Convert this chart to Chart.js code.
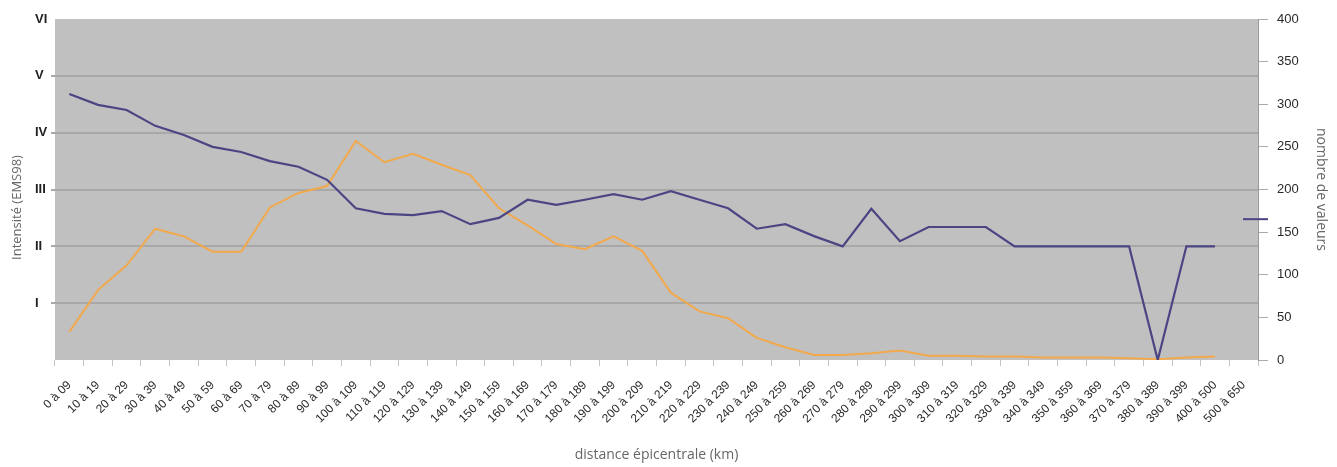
<!DOCTYPE html>
<html>
<head>
<meta charset="utf-8">
<script src="https://cdn.jsdelivr.net/npm/chart.js@4"></script>
<style>
  body { margin: 0; background: #fff; }
  #wrap { width: 1337px; height: 467px; }
</style>
</head>
<body>
<div id="wrap"><canvas id="chart"></canvas></div>
<script>
// distance classes (km)
const distances = [
  "0 à 09", "10 à 19", "20 à 29", "30 à 39", "40 à 49", "50 à 59", "60 à 69", "70 à 79",
  "80 à 89", "90 à 99", "100 à 109", "110 à 119", "120 à 129", "130 à 139", "140 à 149",
  "150 à 159", "160 à 169", "170 à 179", "180 à 189", "190 à 199", "200 à 209", "210 à 219",
  "220 à 229", "230 à 239", "240 à 249", "250 à 259", "260 à 269", "270 à 279", "280 à 289",
  "290 à 299", "300 à 309", "310 à 319", "320 à 329", "330 à 339", "340 à 349", "350 à 359",
  "360 à 369", "370 à 379", "380 à 389", "390 à 399", "400 à 500", "500 à 650"
];

// mean intensity (EMS98), left axis
const intensity = [
  4.68, 4.49, 4.40, 4.12, 3.96, 3.75, 3.66, 3.50, 3.40, 3.17,
  2.67, 2.57, 2.55, 2.62, 2.39, 2.50, 2.82, 2.73, 2.82, 2.92,
  2.82, 2.97, 2.82, 2.67, 2.31, 2.39, 2.18, 2.00, 2.66, 2.09,
  2.34, 2.34, 2.34, 2.00, 2.00, 2.00, 2.00, 2.00, 0, 2.00, 2.00
];

// number of values, right axis
const counts = [
  33, 82, 111, 154, 145, 127, 127, 179, 196, 204,
  257, 232, 242, 229, 217, 178, 158, 136, 130, 145,
  128, 79, 57, 49, 26, 15, 6, 6, 8, 11,
  5, 5, 4, 4, 3, 3, 3, 2, 1, 3, 4
];

const romanLabels = ["", "I", "II", "III", "IV", "V", "VI"];

// gray plot background
const plotBg = {
  id: "plotBg",
  beforeDraw(chart) {
    const { ctx, chartArea: a } = chart;
    ctx.save();
    ctx.fillStyle = "#c0c0c0";
    ctx.fillRect(a.left, a.top, a.right - a.left, a.bottom - a.top);
    ctx.restore();
  }
};

// left axis title + the stray legend key on the right edge
const extras = {
  id: "extras",
  afterDraw(chart) {
    const { ctx, chartArea: a } = chart;
    ctx.save();
    ctx.translate(17, (a.top + a.bottom) / 2 + 18);
    ctx.rotate(-Math.PI / 2);
    ctx.fillStyle = "#666";
    ctx.font = "13px 'Open Sans'";
    ctx.textAlign = "center";
    ctx.textBaseline = "middle";
    ctx.fillText("Intensité (EMS98)", 0, 0);
    ctx.restore();

    const y = a.top + (a.bottom - a.top) * 0.587;
    ctx.save();
    ctx.strokeStyle = "#4b4583";
    ctx.lineWidth = 2;
    ctx.beginPath();
    ctx.moveTo(a.right - 15, y);
    ctx.lineTo(a.right + 10, y);
    ctx.stroke();
    ctx.restore();
  }
};

new Chart(document.getElementById("chart"), {
  type: "line",
  data: {
    labels: distances,
    datasets: [
      {
        label: "Intensité",
        data: intensity,
        yAxisID: "y",
        borderColor: "#4b4583",
        borderWidth: 2.2,
        pointRadius: 0,
        tension: 0
      },
      {
        label: "nombre de valeurs",
        data: counts,
        yAxisID: "y1",
        borderColor: "#f2a94c",
        borderWidth: 2,
        pointRadius: 0,
        tension: 0
      }
    ]
  },
  options: {
    responsive: true,
    maintainAspectRatio: false,
    animation: false,
    layout: { padding: { left: 35, top: 19, right: 0, bottom: 0 } },
    plugins: {
      legend: { display: false },
      tooltip: { enabled: false }
    },
    scales: {
      x: {
        offset: true,
        grid: { offset: true, drawOnChartArea: false, tickLength: 6, color: "#c4c4c4" },
        border: { display: false },
        ticks: {
          autoSkip: false,
          maxRotation: 45,
          minRotation: 45,
          padding: 12,
          color: "#2a2a2a",
          font: { family: "'Liberation Sans', Arial", size: 12 }
        },
        title: {
          display: true,
          text: "distance épicentrale (km)",
          color: "#666",
          font: { family: "'Open Sans'", size: 14 },
          padding: { top: 4, bottom: 4 }
        },
        afterFit(s) { s.height = 107; }
      },
      y: {
        position: "left",
        min: 0,
        max: 6,
        ticks: {
          stepSize: 1,
          crossAlign: "far",
          color: "#222",
          font: { family: "'Liberation Sans', Arial", size: 13, weight: "bold" },
          callback: v => romanLabels[v]
        },
        grid: {
          tickLength: 4,
          lineWidth: 2,
          color: c => (c.tick.value === 0 || c.tick.value === 6) ? "rgba(0,0,0,0)" : "#a8a8a8"
        },
        border: { display: false },
        afterFit(s) { s.width = 20; }
      },
      y1: {
        position: "right",
        min: 0,
        max: 400,
        ticks: {
          stepSize: 50,
          padding: 9,
          color: "#2a2a2a",
          font: { family: "'Liberation Sans Narrow', 'Liberation Sans', Arial", size: 13 }
        },
        grid: { drawOnChartArea: false, tickLength: 10, color: "#aaa" },
        border: { display: true, color: "#999", width: 1 },
        title: {
          display: true,
          text: "nombre de valeurs",
          color: "#666",
          font: { family: "'Open Sans'", size: 14 },
          padding: { top: 8, bottom: 4 }
        },
        afterFit(s) { s.width = 79; }
      }
    }
  },
  plugins: [plotBg, extras]
});
</script>
</body>
</html>
